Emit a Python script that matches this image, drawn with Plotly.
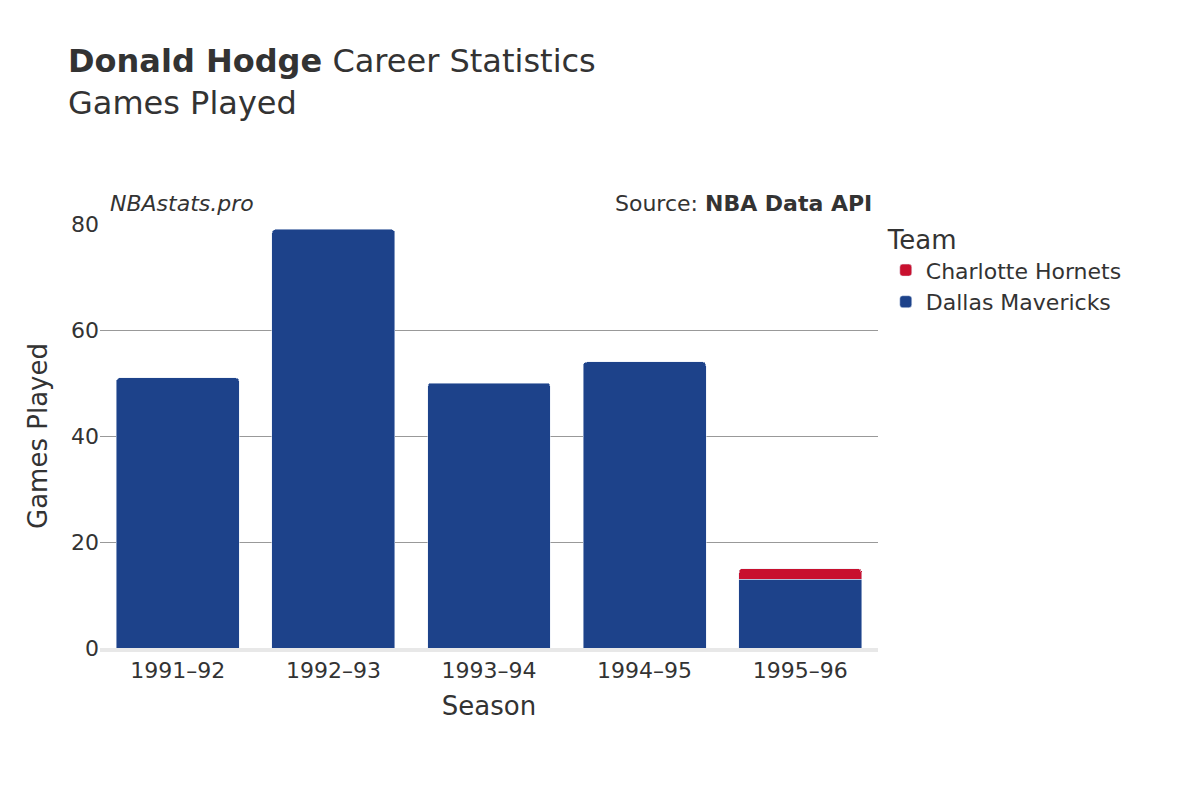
import plotly.graph_objects as go

seasons = ["1991–92", "1992–93", "1993–94", "1994–95", "1995–96"]
dallas = [51, 79, 50, 54, 13]
charlotte_seasons = ["1995–96"]
charlotte = [2]

fig = go.Figure()
fig.add_trace(go.Bar(x=seasons, y=dallas, name="Dallas Mavericks",
                     marker=dict(color="#1d428a", cornerradius=4)))
fig.add_trace(go.Bar(x=charlotte_seasons, y=charlotte, name="Charlotte Hornets",
                     marker=dict(color="#c8102e", cornerradius=4)))

fig.update_layout(
    barmode="stack", bargap=0.21,
    width=1200, height=800,
    font=dict(family="DejaVu Sans", color="#333", size=20),
    plot_bgcolor="white", paper_bgcolor="white",
    margin=dict(l=92, r=330, t=216, b=160),
    title=dict(text="<b>Donald Hodge</b> Career Statistics<br>Games Played",
               x=0.05, xanchor="left", y=0.92, yanchor="top",
               font=dict(size=32, color="#333")),
    legend=dict(title=dict(text="Team", font=dict(size=26)), x=1.01, y=1.02,
                yanchor="top", font=dict(size=22)),
    xaxis=dict(title=dict(text="Season", font=dict(size=26)), showline=True,
               linecolor="#e8e8e8", linewidth=4, tickfont=dict(size=22)),
    yaxis=dict(title=dict(text="Games Played", font=dict(size=26)), range=[0, 80],
               gridcolor="#999", tickvals=[0, 20, 40, 60, 80], tickfont=dict(size=22),
               zeroline=False),
    annotations=[
        dict(text="<i>NBAstats.pro</i>", xref="paper", yref="paper", x=0.01, y=1.015,
             xanchor="left", yanchor="bottom", showarrow=False, font=dict(size=22)),
        dict(text="Source: <b>NBA Data API</b>", xref="paper", yref="paper", x=0.995, y=1.015,
             xanchor="right", yanchor="bottom", showarrow=False, font=dict(size=22)),
    ],
)
fig.write_html("out.html")
